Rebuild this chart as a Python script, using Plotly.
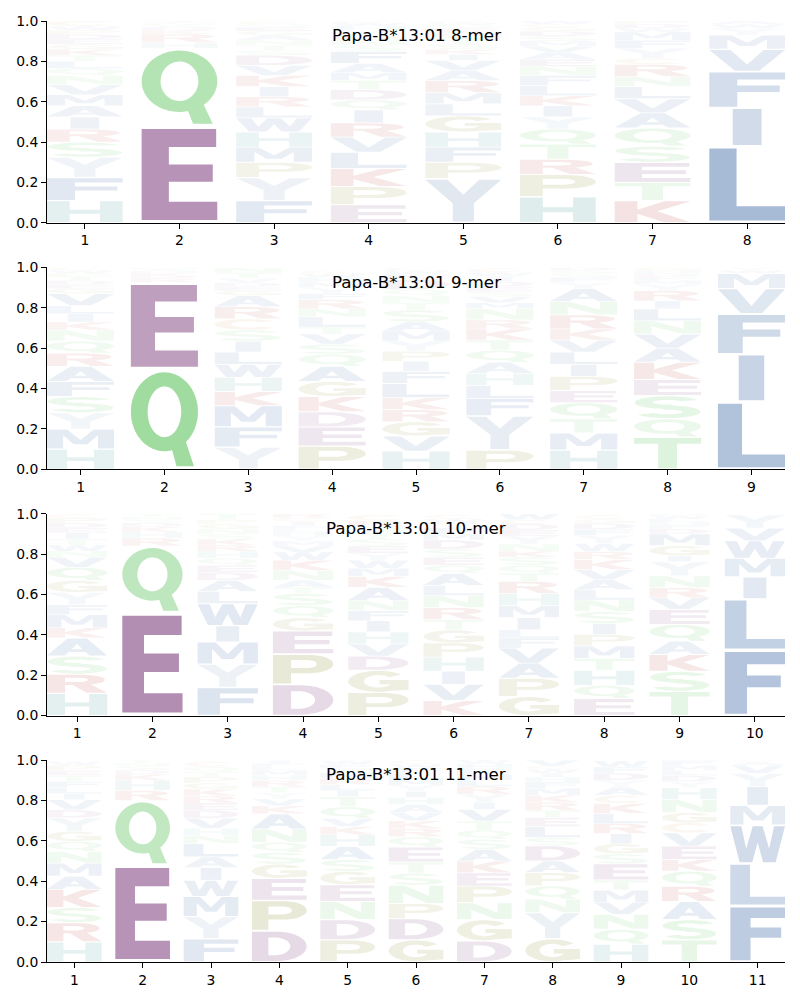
import numpy as np
import plotly.graph_objects as go
from plotly.subplots import make_subplots

# ---------------- data (bottom -> top stacking order per position) ----------------
titles = ["Papa-B*13:01 8-mer", "Papa-B*13:01 9-mer", "Papa-B*13:01 10-mer", "Papa-B*13:01 11-mer"]

letters_8mer = ["HFYSRIAMVNQLTKGEDPWC", "EQHRKDSNT", "FYPMHWLRIKVDSTNAGEQC", "EPKLVRIQDTMAFSNGYHWC",
                "YPFHGLMRAVIKSTNDEQWC", "HPRTQYIKLFNEAVMSDGCW", "KTESQAVLNRCYFMWDP", "LIFVMYWA"]
heights_8mer = [
    [.11, .115, .10, .075, .065, .06, .055, .055, .05, .045, .035, .035, .03, .03, .025, .025, .025, .02, .02, .025],
    [.48, .385, .03, .04, .02, .015, .01, .01, .01],
    [.11, .115, .075, .075, .075, .07, .055, .05, .05, .055, .05, .05, .025, .025, .025, .025, .02, .02, .015, .015],
    [.09, .09, .09, .08, .075, .07, .065, .05, .05, .045, .04, .045, .06, .03, .025, .025, .025, .02, .015, .01],
    [.22, .08, .075, .075, .08, .06, .055, .06, .05, .05, .03, .025, .025, .02, .02, .02, .02, .015, .01, .01],
    [.13, .11, .075, .075, .075, .06, .055, .05, .05, .05, .045, .035, .035, .03, .025, .025, .025, .02, .015, .015],
    [.11, .09, .10, .08, .09, .075, .07, .06, .05, .06, .03, .05, .04, .04, .02, .02, .015],
    [.38, .19, .18, .11, .07, .035, .02, .015],
]

letters_9mer = ["HMYSFARQNKILVGEDTPWC", "QERDKHSN", "YFMKHWLISCRAGEDVTN", "PEDKGAQSVTLNRFYMHWC",
                "HVGRKLFIPYMASTNQDEWC", "PYFLHAQTKRNMVSEDIWC", "HMTQEPILVKRNAYFSGD", "TQSEKAVNLIRYMFDHG",
                "LIFVMWY"]
heights_9mer = [
    [.10, .10, .08, .08, .075, .075, .065, .06, .055, .04, .04, .04, .06, .025, .02, .02, .02, .015, .015, .015],
    [.495, .43, .02, .015, .012, .01, .01, .008],
    [.11, .10, .105, .07, .07, .065, .06, .055, .055, .055, .06, .055, .025, .02, .02, .02, .03, .025],
    [.115, .095, .075, .075, .075, .075, .06, .05, .05, .035, .05, .04, .045, .03, .03, .025, .025, .02, .015],
    [.09, .075, .07, .06, .06, .07, .06, .05, .05, .05, .05, .045, .06, .035, .035, .03, .05, .025, .02, .015],
    [.095, .17, .085, .065, .06, .055, .06, .05, .055, .045, .055, .03, .03, .025, .025, .025, .025, .02, .02],
    [.095, .085, .07, .08, .06, .07, .06, .06, .06, .055, .07, .065, .065, .03, .025, .02, .015, .015],
    [.16, .09, .115, .08, .085, .07, .07, .065, .06, .04, .05, .03, .02, .02, .015, .015, .015],
    [.335, .235, .20, .125, .075, .015, .015],
]

letters_10mer = ["HRSAKMFYGQVNWTIEDPC", "EQRHKDSNT", "FYMIWLADEQHRKSNGPT", "DPEGQSTANKWVMYHLFICR",
                 "PGDVHIFNAKMWYESTQRC", "KVIHPGTRNLAQESDMFYWC", "GPAVFLIMHRTQSKNYEDCW",
                 "EQHTMPISNLAVKRWYFDGC", "TSKAQEVRNYIGMDFHLWP", "FLIMWVY"]
heights_10mer = [
    [.11, .095, .09, .09, .05, .065, .05, .06, .06, .065, .05, .03, .03, .03, .03, .025, .025, .025, .02],
    [.51, .33, .04, .03, .025, .02, .015, .015, .015],
    [.14, .115, .11, .08, .11, .06, .055, .04, .035, .035, .035, .03, .03, .025, .025, .025, .02, .03],
    [.155, .15, .115, .065, .06, .06, .03, .035, .05, .05, .04, .03, .025, .025, .02, .015, .015, .02, .02, .02],
    [.115, .11, .07, .06, .06, .055, .05, .05, .065, .055, .04, .04, .035, .035, .035, .03, .03, .03, .03],
    [.075, .08, .065, .07, .07, .065, .05, .06, .06, .05, .06, .04, .04, .04, .045, .03, .03, .025, .02, .02],
    [.095, .09, .075, .075, .05, .04, .06, .06, .06, .06, .04, .04, .04, .03, .035, .04, .03, .03, .02, .03],
    [.085, .065, .075, .058, .063, .056, .055, .058, .058, .05, .05, .05, .05, .04, .04, .04, .03, .03, .02, .02],
    [.12, .10, .083, .066, .083, .074, .058, .05, .058, .07, .03, .05, .058, .025, .02, .015, .015, .015, .01],
    [.325, .253, .109, .093, .086, .063, .066],
]

letters_11mer = ["HRSKAMNQGYDVILFTEPW", "EQRHKDSNT", "FYMWIALNHVDERKGPTQC", "DPEGSQNAKVYTRHMLFI",
                 "PDNEGSAHKVQTILRMYFW", "GDPNSTEQRKVAHIYMLFWC", "DGNPEKASQTVIYRLMFHW",
                 "GYNQPADSLETRKMFHIWCV", "HQNVMTESGIRLKCAYDFW", "TSARQKEVCGNHYDLMF", "FLWMIYVAC"]
heights_11mer = [
    [.10, .095, .075, .09, .065, .065, .058, .05, .05, .066, .04, .05, .03, .03, .03, .03, .025, .025, .02],
    [.48, .32, .05, .05, .03, .02, .02, .015, .015],
    [.115, .11, .10, .08, .063, .053, .066, .04, .035, .05, .04, .035, .035, .035, .03, .03, .025, .025, .025],
    [.155, .15, .11, .07, .058, .05, .066, .075, .04, .035, .03, .03, .03, .025, .025, .02, .015, .015],
    [.11, .10, .09, .083, .066, .058, .066, .058, .04, .04, .058, .05, .03, .03, .03, .03, .02, .02, .02],
    [.11, .105, .075, .09, .06, .055, .075, .05, .04, .04, .04, .04, .035, .03, .03, .03, .03, .025, .02, .02],
    [.105, .105, .083, .083, .066, .058, .058, .05, .045, .045, .058, .035, .04, .04, .03, .03, .025, .025, .02],
    [.115, .13, .066, .066, .066, .058, .075, .04, .055, .045, .035, .04, .035, .035, .03, .025, .02, .02, .015, .03],
    [.088, .074, .074, .06, .06, .05, .08, .05, .05, .05, .05, .05, .05, .04, .04, .035, .035, .03, .03],
    [.11, .10, .09, .075, .075, .058, .066, .066, .05, .05, .066, .058, .03, .03, .025, .025, .025],
    [.278, .21, .19, .098, .093, .066, .04, .015, .01],
]

panels = [(letters_8mer, heights_8mer), (letters_9mer, heights_9mer),
          (letters_10mer, heights_10mer), (letters_11mer, heights_11mer)]

# ---------------- styling ----------------
BASE = {}
for aa in "AVLIMFW":
    BASE[aa] = (62, 106, 167)
for aa in "STNQ":
    BASE[aa] = (94, 196, 94)
for aa in "DE":
    BASE[aa] = (129, 68, 129)
for aa in "KR":
    BASE[aa] = (190, 60, 60)
for aa in "PG":
    BASE[aa] = (140, 140, 50)
BASE["H"] = (70, 150, 150)
BASE["Y"] = (145, 171, 200)
BASE["C"] = (200, 140, 60)


def letter_color(aa, h):
    a = min(1.0, 0.02 + 1.15 * h)
    r, g, b = BASE[aa]
    return "rgb(%d,%d,%d)" % (round(255 - a * (255 - r)), round(255 - a * (255 - g)), round(255 - a * (255 - b)))


# ---------------- glyph outlines in a unit box ----------------
def ell(cx, cy, rx, ry, t0, t1, n=48):
    t = np.radians(np.linspace(t0, t1, n))
    return list(zip(cx + rx * np.cos(t), cy + ry * np.sin(t)))


def band(cx, cy, rxo, ryo, rxi, ryi, t0, t1, icx=None, icy=None):
    icx = cx if icx is None else icx
    icy = cy if icy is None else icy
    return ell(cx, cy, rxo, ryo, t0, t1) + ell(icx, icy, rxi, ryi, t1, t0)


def sarea(p):
    s = 0.0
    for i in range(len(p)):
        x1, y1 = p[i]
        x2, y2 = p[(i + 1) % len(p)]
        s += x1 * y2 - x2 * y1
    return s / 2


GLYPHS = {
    "A": [([(0, 0), (0.34, 1), (0.66, 1), (1, 0), (0.71, 0), (0.64, 0.2), (0.36, 0.2), (0.29, 0)], False),
          ([(0.41, 0.37), (0.59, 0.37), (0.5, 0.68)], True)],
    "C": [(band(0.5, 0.5, 0.5, 0.5, 0.25, 0.3, 42, 318), False)],
    "D": [([(0, 0), (0, 1), (0.45, 1)] + ell(0.45, 0.5, 0.55, 0.5, 90, -90) + [(0.45, 0)], False),
          ([(0.3, 0.2), (0.42, 0.2)] + ell(0.42, 0.5, 0.28, 0.3, -90, 90) + [(0.3, 0.8)], True)],
    "E": [([(0, 0), (1, 0), (1, 0.2), (0.36, 0.2), (0.36, 0.42), (0.94, 0.42), (0.94, 0.61), (0.36, 0.61),
            (0.36, 0.8), (0.985, 0.8), (0.985, 1), (0, 1)], False)],
    "F": [([(0, 0), (0.37, 0), (0.37, 0.43), (0.93, 0.43), (0.93, 0.62), (0.37, 0.62), (0.37, 0.8), (1, 0.8),
            (1, 1), (0, 1)], False)],
    "G": [(band(0.5, 0.5, 0.5, 0.5, 0.24, 0.3, 40, 350), False),
          ([(0.52, 0.36), (0.74, 0.36), (0.74, 0.05), (1, 0.1), (1, 0.56), (0.52, 0.56)], False)],
    "H": [([(0, 0), (0.3, 0), (0.3, 0.4), (0.7, 0.4), (0.7, 0), (1, 0), (1, 1), (0.7, 1), (0.7, 0.6),
            (0.3, 0.6), (0.3, 1), (0, 1)], False)],
    "I": [([(0.31, 0), (0.69, 0), (0.69, 1), (0.31, 1)], False)],
    "K": [([(0, 0), (0.3, 0), (0.3, 0.4), (0.65, 0), (1, 0), (0.56, 0.53), (1, 1), (0.66, 1), (0.3, 0.6),
            (0.3, 1), (0, 1)], False)],
    "L": [([(0, 0), (1, 0), (1, 0.2), (0.36, 0.2), (0.36, 1), (0, 1)], False)],
    "M": [([(0, 0), (0.24, 0), (0.24, 0.7), (0.4, 0.22), (0.6, 0.22), (0.76, 0.7), (0.76, 0), (1, 0), (1, 1),
            (0.7, 1), (0.5, 0.45), (0.3, 1), (0, 1)], False)],
    "N": [([(0, 0), (0.26, 0), (0.26, 0.6), (0.7, 0), (1, 0), (1, 1), (0.74, 1), (0.74, 0.4), (0.3, 1),
            (0, 1)], False)],
    "P": [([(0, 0), (0.3, 0), (0.3, 0.36), (0.6, 0.36)] + ell(0.6, 0.68, 0.4, 0.32, -90, 90) + [(0, 1)], False),
          ([(0.3, 0.54), (0.56, 0.54)] + ell(0.56, 0.68, 0.17, 0.14, -90, 90) + [(0.3, 0.82)], True)],
    "Q": [(ell(0.5, 0.58, 0.5, 0.42, 0, 360, 72), False),
          (ell(0.5, 0.58, 0.25, 0.27, 0, 360, 72), True),
          ([(0.58, 0.26), (0.68, 0), (0.94, 0), (0.82, 0.26)], False)],
    "R": [([(0, 0), (0.3, 0), (0.3, 0.44), (0.56, 0.44)] + ell(0.56, 0.72, 0.4, 0.28, -90, 90) + [(0, 1)], False),
          ([(0.3, 0.6), (0.52, 0.6)] + ell(0.52, 0.72, 0.16, 0.12, -90, 90) + [(0.3, 0.84)], True),
          ([(0.4, 0.48), (0.66, 0), (1, 0), (0.72, 0.48)], False)],
    "S": [(band(0.5, 0.71, 0.49, 0.29, 0.22, 0.105, 25, 285, icy=0.725), False),
          (band(0.5, 0.29, 0.49, 0.29, 0.22, 0.105, -155, 105, icy=0.275), False)],
    "T": [([(0.36, 0), (0.64, 0), (0.64, 0.81), (1, 0.81), (1, 1), (0, 1), (0, 0.81), (0.36, 0.81)], False)],
    "V": [([(0.34, 0), (0.66, 0), (1, 1), (0.72, 1), (0.5, 0.3), (0.28, 1), (0, 1)], False)],
    "W": [([(0.17, 0), (0.4, 0), (0.5, 0.55), (0.6, 0), (0.83, 0), (1, 1), (0.8, 1), (0.71, 0.38), (0.59, 1),
            (0.41, 1), (0.29, 0.38), (0.2, 1), (0, 1)], False)],
    "Y": [([(0.36, 0), (0.64, 0), (0.64, 0.44), (1, 1), (0.71, 1), (0.5, 0.64), (0.29, 1), (0, 1),
            (0.36, 0.44)], False)],
}

GLYPH_W = 0.8
VPAD = 0.03


def glyph_path(aa, xc, y0, h):
    gy0 = y0 + VPAD * h
    gh = h * (1 - 2 * VPAD)
    parts = []
    for poly, hole in GLYPHS[aa]:
        pts = list(poly)
        if (sarea(pts) > 0) == hole:
            pts = pts[::-1]
        s = "M " + " L ".join("%.4f,%.5f" % (xc - GLYPH_W / 2 + GLYPH_W * u, gy0 + gh * v) for u, v in pts) + " Z"
        parts.append(s)
    return " ".join(parts)


# ---------------- figure ----------------
fig = make_subplots(rows=4, cols=1, vertical_spacing=0.0473)
shapes = []
FONT = "DejaVu Sans"

for r, ((letters, heights), title) in enumerate(zip(panels, titles), start=1):
    sfx = "" if r == 1 else str(r)
    n = len(letters)
    for pos in range(n):
        y = 0.0
        for aa, h in zip(letters[pos], heights[pos]):
            shapes.append(dict(type="path", path=glyph_path(aa, pos + 1, y, h), xref="x" + sfx, yref="y" + sfx,
                               fillcolor=letter_color(aa, h), line=dict(width=0), fillrule="nonzero",
                               layer="above"))
            y += h
    # invisible trace to anchor the axes
    fig.add_trace(go.Scatter(x=list(range(1, n + 1)), y=[0] * n, mode="markers",
                             marker=dict(opacity=0), hoverinfo="skip", showlegend=False), row=r, col=1)
    fig.update_xaxes(row=r, col=1, range=[0.6, n + 0.4], tickmode="array", tickvals=list(range(1, n + 1)),
                     ticktext=[str(i) for i in range(1, n + 1)], showline=True, linecolor="black", linewidth=1.1,
                     ticks="outside", ticklen=4.9, tickwidth=1.1, tickcolor="black", showgrid=False,
                     zeroline=False, automargin=False, tickfont=dict(family=FONT, size=13.9, color="black"))
    fig.update_yaxes(row=r, col=1, range=[0, 1], tickmode="array", tickvals=[0, 0.2, 0.4, 0.6, 0.8, 1.0],
                     ticktext=["0.0", "0.2", "0.4", "0.6", "0.8", "1.0"], showline=True, linecolor="black",
                     linewidth=1.1, ticks="outside", ticklen=4.9, tickwidth=1.1, tickcolor="black",
                     showgrid=False, zeroline=False, automargin=False,
                     tickfont=dict(family=FONT, size=13.9, color="black"))
    fig.add_annotation(xref="x%s domain" % sfx, yref="y%s domain" % sfx, x=0.5, y=0.93, text=title,
                       showarrow=False, xanchor="center", yanchor="middle",
                       font=dict(family=FONT, size=16.7, color="black"))

# the page body adds an 8px offset; size the figure so the axes land where the reference has them
fig.update_layout(shapes=shapes, width=784, height=984, margin=dict(l=39, r=7, t=13, b=30),
                  plot_bgcolor="white", paper_bgcolor="white", showlegend=False)
fig.write_html("out.html")
